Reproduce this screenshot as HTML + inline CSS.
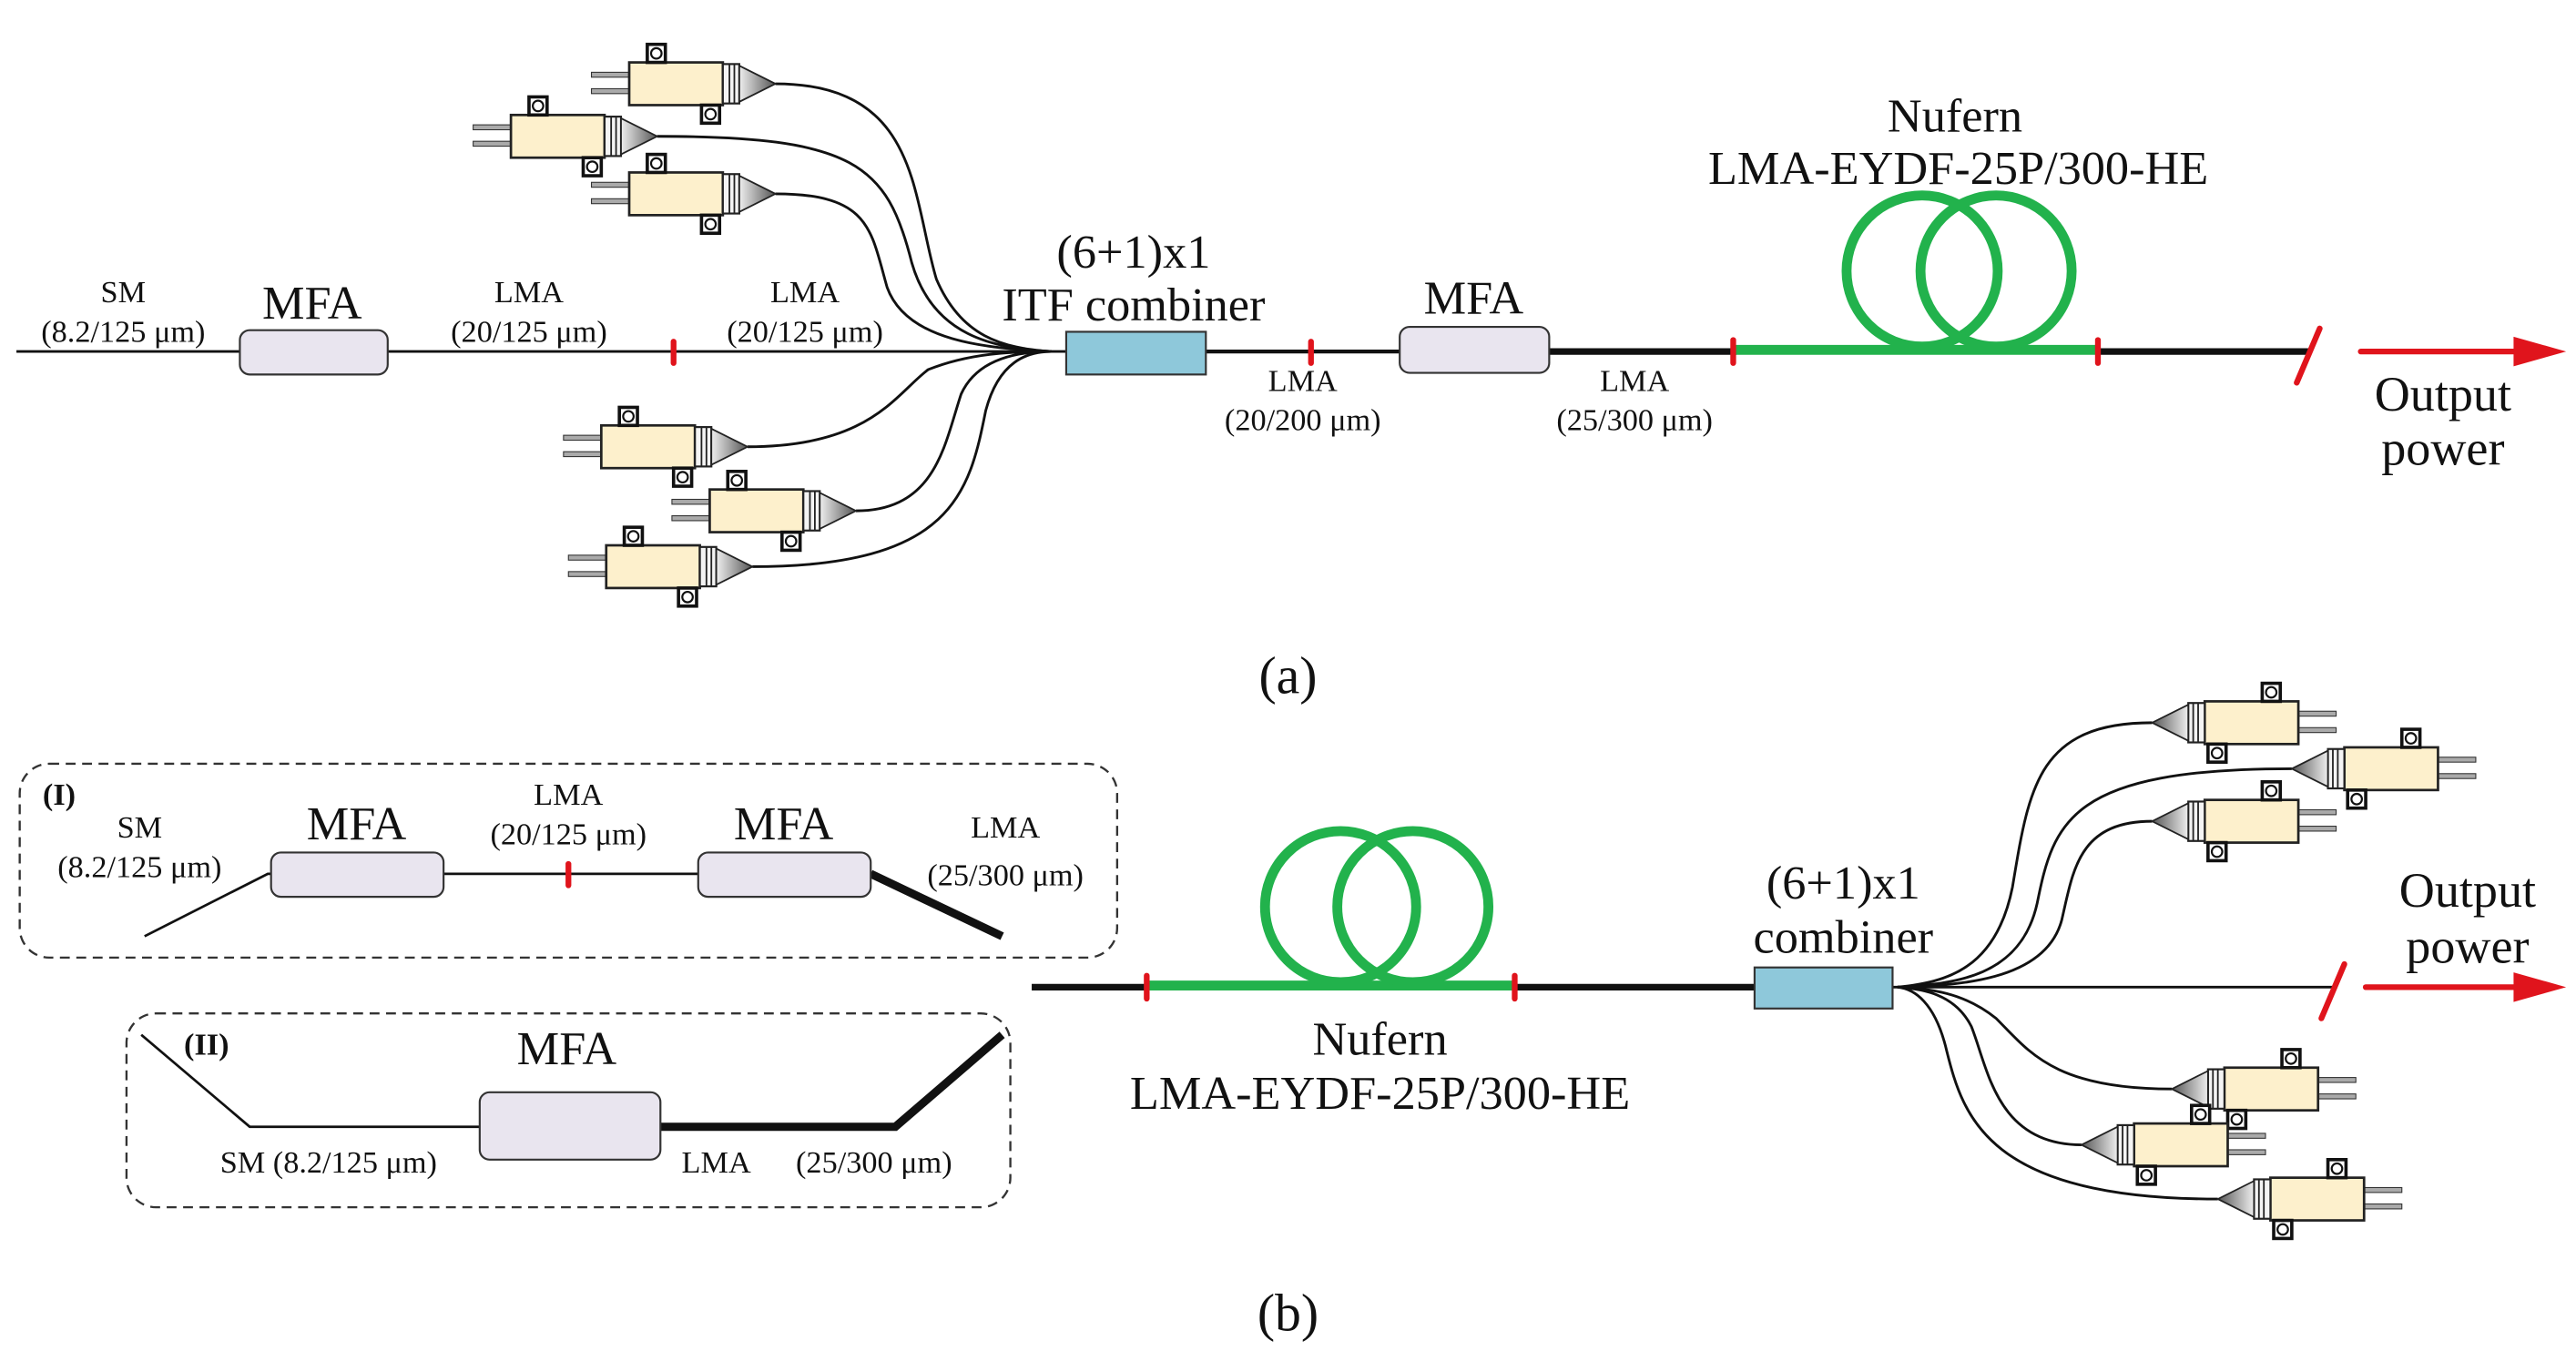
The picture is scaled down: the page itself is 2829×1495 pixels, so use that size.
<!DOCTYPE html>
<html><head><meta charset="utf-8"><style>
html,body{margin:0;padding:0;background:#fff;}
svg{display:block;}
text{font-family:"Liberation Serif",serif;fill:#111;}
</style></head><body>
<svg width="2829" height="1495" viewBox="0 0 1568 828.6" preserveAspectRatio="none" xmlns="http://www.w3.org/2000/svg">
<defs>
<linearGradient id="cg" x1="0" x2="1" y1="0" y2="0"><stop offset="0" stop-color="#eee"/><stop offset="1" stop-color="#555"/></linearGradient>
<g id="pump">
<rect x="-112" y="-7" width="24" height="3" fill="#aaa" stroke="#333" stroke-width="0.6"/>
<rect x="-112" y="3" width="24" height="3" fill="#aaa" stroke="#333" stroke-width="0.6"/>
<rect x="-89" y="-13" width="57" height="26" fill="#fdf0cc" stroke="#222" stroke-width="1.5"/>
<rect x="-32" y="-12" width="10" height="24" fill="#f4f4f4" stroke="#222" stroke-width="1.2"/>
<line x1="-28" y1="-12" x2="-28" y2="12" stroke="#222" stroke-width="1"/>
<line x1="-25" y1="-12" x2="-25" y2="12" stroke="#222" stroke-width="1"/>
<polygon points="-22,-11 0,0 -22,11" fill="url(#cg)" stroke="#222" stroke-width="1"/>
<rect x="-78" y="-24" width="11" height="11" fill="#fff" stroke="#111" stroke-width="2"/>
<circle cx="-72.5" cy="-18.5" r="3.2" fill="none" stroke="#111" stroke-width="1.2"/>
<rect x="-45" y="13" width="11" height="11" fill="#fff" stroke="#111" stroke-width="2"/>
<circle cx="-39.5" cy="18.5" r="3.2" fill="none" stroke="#111" stroke-width="1.2"/>
</g>
</defs>

<!-- ===== (a) ===== -->
<g fill="none" stroke="#111" stroke-width="1.6">
<path d="M472,51 C560,51 555,120 570,170 C585,205 610,212 640,214"/>
<path d="M400,83 C520,83 540,100 555,160 C568,205 605,212 640,214"/>
<path d="M472,118 C530,118 530,140 540,175 C552,208 600,212 640,214"/>
<path d="M455,272 C530,272 545,240 565,225 C590,215 615,214 640,214"/>
<path d="M521,311 C570,311 575,270 585,240 C595,218 620,214 640,214"/>
<path d="M458,345 C580,345 590,300 600,250 C608,220 625,214 640,214"/>
</g>
<use href="#pump" transform="translate(472,51)"/>
<use href="#pump" transform="translate(400,83)"/>
<use href="#pump" transform="translate(472,118)"/>
<use href="#pump" transform="translate(455,272)"/>
<use href="#pump" transform="translate(521,311)"/>
<use href="#pump" transform="translate(458,345)"/>

<line x1="10" y1="214" x2="650" y2="214" stroke="#111" stroke-width="1.6"/>
<line x1="734" y1="214" x2="852" y2="214" stroke="#111" stroke-width="2.4"/>
<line x1="943" y1="214" x2="1057" y2="214" stroke="#111" stroke-width="4"/>
<line x1="1277" y1="214" x2="1405" y2="214" stroke="#111" stroke-width="4"/>
<g fill="none" stroke="#22b24c" stroke-width="6">
<line x1="1055" y1="213" x2="1277" y2="213"/>
<circle cx="1170" cy="165" r="46"/>
<circle cx="1215" cy="165" r="46"/>
</g>
<rect x="146" y="201" width="90" height="27" rx="6" fill="#e9e5ef" stroke="#333" stroke-width="1.2"/>
<rect x="649" y="202" width="85" height="26" fill="#8ec8da" stroke="#333" stroke-width="1.2"/>
<rect x="852" y="199" width="91" height="28" rx="6" fill="#e9e5ef" stroke="#333" stroke-width="1.2"/>
<g stroke="#e0141c" stroke-width="3.5" stroke-linecap="round">
<line x1="410" y1="208" x2="410" y2="221"/>
<line x1="798" y1="208" x2="798" y2="221"/>
<line x1="1055" y1="207" x2="1055" y2="221"/>
<line x1="1277" y1="207" x2="1277" y2="221"/>
<line x1="1398" y1="233" x2="1412" y2="200"/>
<line x1="1437" y1="214" x2="1535" y2="214"/>
</g>
<polygon points="1530,205 1562,214 1530,223" fill="#e0141c"/>

<g font-size="19" text-anchor="middle">
<text x="75" y="184">SM</text><text x="75" y="208">(8.2/125 μm)</text>
<text x="322" y="184">LMA</text><text x="322" y="208">(20/125 μm)</text>
<text x="490" y="184">LMA</text><text x="490" y="208">(20/125 μm)</text>
<text x="793" y="238">LMA</text><text x="793" y="262">(20/200 μm)</text>
<text x="995" y="238">LMA</text><text x="995" y="262">(25/300 μm)</text>
</g>
<g font-size="29" text-anchor="middle">
<text x="190" y="194">MFA</text>
<text x="897" y="191">MFA</text>
<text x="690" y="163">(6+1)x1</text>
<text x="690" y="195">ITF combiner</text>
<text x="1190" y="80">Nufern</text>
<text x="1192" y="112">LMA-EYDF-25P/300-HE</text>
<text x="1487" y="250" font-size="30">Output</text>
<text x="1487" y="283" font-size="30">power</text>
<text x="784" y="422" font-size="32">(a)</text>
</g>

<!-- ===== (b) ===== -->
<rect x="12" y="465" width="668" height="118" rx="18" fill="none" stroke="#333" stroke-width="1.3" stroke-dasharray="6,4"/>
<rect x="77" y="617" width="538" height="118" rx="18" fill="none" stroke="#333" stroke-width="1.3" stroke-dasharray="6,4"/>
<g stroke="#111" fill="none">
<polyline points="88,570 163,532 425,532" stroke-width="1.5"/>
<line x1="530" y1="532" x2="610" y2="570" stroke-width="5"/>
<polyline points="86,630 152,686 292,686" stroke-width="1.5"/>
<polyline points="402,686 545,686 610,630" stroke-width="5"/>
</g>
<rect x="165" y="519" width="105" height="27" rx="6" fill="#e9e5ef" stroke="#333" stroke-width="1.2"/>
<rect x="425" y="519" width="105" height="27" rx="6" fill="#e9e5ef" stroke="#333" stroke-width="1.2"/>
<rect x="292" y="665" width="110" height="41" rx="6" fill="#e9e5ef" stroke="#333" stroke-width="1.2"/>
<line x1="346" y1="526" x2="346" y2="539" stroke="#e0141c" stroke-width="3.5" stroke-linecap="round"/>
<g font-size="19" text-anchor="middle">
<text x="26" y="490" font-weight="bold" text-anchor="start">(I)</text>
<text x="85" y="510">SM</text><text x="85" y="534">(8.2/125 μm)</text>
<text x="346" y="490">LMA</text><text x="346" y="514">(20/125 μm)</text>
<text x="612" y="510">LMA</text><text x="612" y="539">(25/300 μm)</text>
<text x="200" y="714">SM (8.2/125 μm)</text>
<text x="436" y="714">LMA</text>
<text x="532" y="714">(25/300 μm)</text>
<text x="112" y="642" font-weight="bold" text-anchor="start">(II)</text>
</g>
<g font-size="29" text-anchor="middle">
<text x="217" y="511">MFA</text>
<text x="477" y="511">MFA</text>
<text x="345" y="648">MFA</text>
</g>

<g fill="none" stroke="#111" stroke-width="1.6">
<path d="M1310,440 C1240,440 1235,480 1225,540 C1215,590 1185,598 1155,601"/>
<path d="M1395,468 C1260,468 1250,500 1240,550 C1230,595 1190,599 1155,601"/>
<path d="M1310,500 C1265,500 1262,530 1255,560 C1245,598 1190,600 1155,601"/>
<path d="M1322,663 C1250,663 1235,640 1215,620 C1195,604 1175,602 1155,601"/>
<path d="M1267,697 C1215,697 1210,650 1200,625 C1190,605 1170,602 1155,601"/>
<path d="M1350,730 C1210,730 1195,680 1185,640 C1178,610 1165,602 1155,601"/>
</g>
<use href="#pump" transform="translate(1310,440) scale(-1,1)"/>
<use href="#pump" transform="translate(1395,468) scale(-1,1)"/>
<use href="#pump" transform="translate(1310,500) scale(-1,1)"/>
<use href="#pump" transform="translate(1322,663) scale(-1,1)"/>
<use href="#pump" transform="translate(1267,697) scale(-1,1)"/>
<use href="#pump" transform="translate(1350,730) scale(-1,1)"/>

<line x1="628" y1="601" x2="700" y2="601" stroke="#111" stroke-width="4"/>
<line x1="920" y1="601" x2="1068" y2="601" stroke="#111" stroke-width="4"/>
<line x1="1152" y1="601" x2="1422" y2="601" stroke="#111" stroke-width="1.6"/>
<g fill="none" stroke="#22b24c" stroke-width="6">
<line x1="698" y1="600" x2="922" y2="600"/>
<circle cx="816" cy="552" r="46"/>
<circle cx="860" cy="552" r="46"/>
</g>
<rect x="1068" y="589" width="84" height="25" fill="#8ec8da" stroke="#333" stroke-width="1.2"/>
<g stroke="#e0141c" stroke-width="3.5" stroke-linecap="round">
<line x1="698" y1="594" x2="698" y2="608"/>
<line x1="922" y1="594" x2="922" y2="608"/>
<line x1="1413" y1="620" x2="1427" y2="587"/>
<line x1="1440" y1="601" x2="1535" y2="601"/>
</g>
<polygon points="1530,592 1562,601 1530,610" fill="#e0141c"/>
<g font-size="29" text-anchor="middle">
<text x="1122" y="547">(6+1)x1</text>
<text x="1122" y="580">combiner</text>
<text x="1502" y="552" font-size="30">Output</text>
<text x="1502" y="586" font-size="30">power</text>
<text x="840" y="642">Nufern</text>
<text x="840" y="675">LMA-EYDF-25P/300-HE</text>
<text x="784" y="810" font-size="32">(b)</text>
</g>
</svg>
</body></html>
